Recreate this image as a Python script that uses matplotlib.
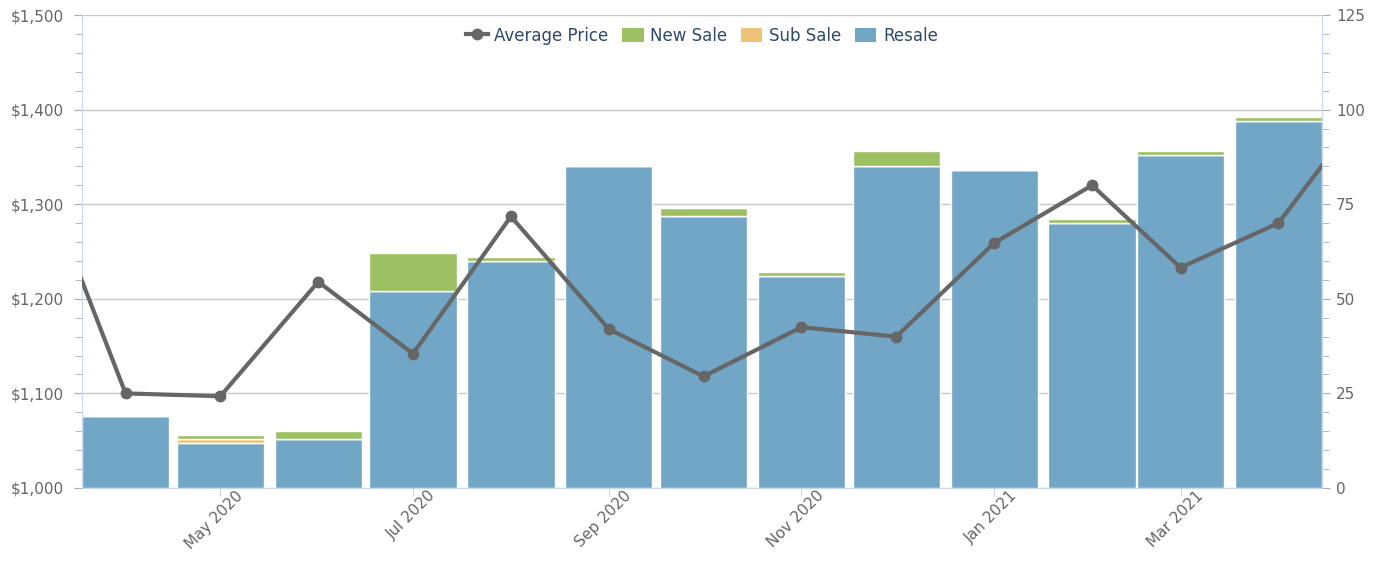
import matplotlib
matplotlib.use("Agg")
import matplotlib.pyplot as plt
import matplotlib.dates as mdates
import numpy as np
import pandas as pd
from matplotlib.lines import Line2D
from matplotlib.patches import Patch
from matplotlib.ticker import MultipleLocator, FuncFormatter

# monthly data (bars use right axis, line uses left axis)
months = ["2020-04", "2020-05", "2020-06", "2020-07", "2020-08", "2020-09", "2020-10",
          "2020-11", "2020-12", "2021-01", "2021-02", "2021-03", "2021-04"]
resale = [19, 12, 13, 52, 60, 85, 72, 56, 85, 84, 70, 88, 97]
sub_sale = [0, 1, 0, 0, 0, 0, 0, 0, 0, 0, 0, 0, 0]
new_sale = [0, 1, 2, 10, 1, 0, 2, 1, 4, 0, 1, 1, 1]

# average price, includes the month before/after (clipped at the edges)
price_months = ["2020-03"] + months + ["2021-05"]
avg_price = [1367, 1100, 1097, 1218, 1142, 1287, 1168, 1118, 1170, 1160,
             1259, 1320, 1233, 1280, 1412]

tick_months = ["2020-05", "2020-07", "2020-09", "2020-11", "2021-01", "2021-03"]
tick_labels = ["May 2020", "Jul 2020", "Sep 2020", "Nov 2020", "Jan 2021", "Mar 2021"]

c_resale = "#71a6c7"
c_sub = "#eec377"
c_new = "#9dc063"
c_line = "#666666"
c_axis = "#ccd6eb"
c_text = "#666666"

dates = pd.to_datetime(months)
pdates = pd.to_datetime(price_months)
tdates = pd.to_datetime(tick_months)
resale = np.array(resale)
sub_sale = np.array(sub_sale)
new_sale = np.array(new_sale)

fig = plt.figure(figsize=(13.8, 5.81), dpi=100)
ax = fig.add_axes([82 / 1380, 1 - 488 / 581, 1240 / 1380, 473 / 581])
ax2 = ax.twinx()

w = 27.6
ax.bar(dates, resale, width=w, color=c_resale, edgecolor="white", linewidth=1)
ax.bar(dates, sub_sale, width=w, bottom=resale, color=c_sub, edgecolor="white", linewidth=1)
ax.bar(dates, new_sale, width=w, bottom=resale + sub_sale, color=c_new, edgecolor="white", linewidth=1)

ax2.plot(pdates, avg_price, color=c_line, lw=3, marker="o", ms=7.5, zorder=5)

ax.set_xlim(dates[0] - pd.Timedelta(days=13.8), dates[-1] + pd.Timedelta(days=13.8))
ax.set_ylim(0, 125)
ax2.set_ylim(1000, 1500)

# right axis for the bars, left axis for price
ax.yaxis.tick_right()
ax2.yaxis.tick_left()
ax.yaxis.set_major_locator(MultipleLocator(25))
ax.yaxis.set_minor_locator(MultipleLocator(5))
ax2.yaxis.set_major_locator(MultipleLocator(100))
ax2.yaxis.set_minor_locator(MultipleLocator(20))
ax2.yaxis.set_major_formatter(FuncFormatter(lambda v, p: "${:,.0f}".format(v)))

# x ticks, labels drawn by hand so they sit like the original
ax.set_xticks(tdates)
ax.tick_params(axis="x", labelbottom=False, length=6, color=c_axis)
for d, lab in zip(tdates, tick_labels):
    ax.annotate(lab, xy=(d, 0), xycoords=("data", "axes fraction"),
                xytext=(15, 0), textcoords="offset pixels", rotation=45,
                ha="right", va="top", rotation_mode="anchor",
                fontsize=11, color=c_text)

ax.grid(axis="y", color="#c8c8c8", lw=1)
ax.set_axisbelow(True)

for a in (ax, ax2):
    for s in a.spines.values():
        s.set_visible(False)
ax.spines["bottom"].set_visible(True)
ax.spines["bottom"].set_color(c_axis)
ax.spines["right"].set_visible(True)
ax.spines["right"].set_color(c_axis)
ax2.spines["left"].set_visible(True)
ax2.spines["left"].set_color(c_axis)

ax.tick_params(axis="y", which="major", colors=c_text, labelsize=11, length=6, color="#aaaaaa", pad=4)
ax.tick_params(axis="y", which="minor", length=5, color="#aaaaaa")
ax2.tick_params(axis="y", which="major", colors=c_text, labelsize=11, length=6, color="#aaaaaa", pad=7)
ax2.tick_params(axis="y", which="minor", length=5, color="#aaaaaa")
for lbl in ax.get_yticklabels() + ax2.get_yticklabels():
    lbl.set_color(c_text)

handles = [
    Line2D([0], [0], color=c_line, lw=3, marker="o", ms=7.5),
    Patch(facecolor=c_new, edgecolor="none"),
    Patch(facecolor=c_sub, edgecolor="none"),
    Patch(facecolor=c_resale, edgecolor="none"),
]
leg = ax2.legend(handles, ["Average Price", "New Sale", "Sub Sale", "Resale"],
                 loc="upper center", bbox_to_anchor=(0.5, 1.0), ncol=4, frameon=False,
                 fontsize=12, handlelength=1.3, handleheight=1.0, handletextpad=0.4,
                 columnspacing=0.8, borderaxespad=0.3)
for t in leg.get_texts():
    t.set_color("#2e4a68")

fig.savefig("out.png", dpi=100)
